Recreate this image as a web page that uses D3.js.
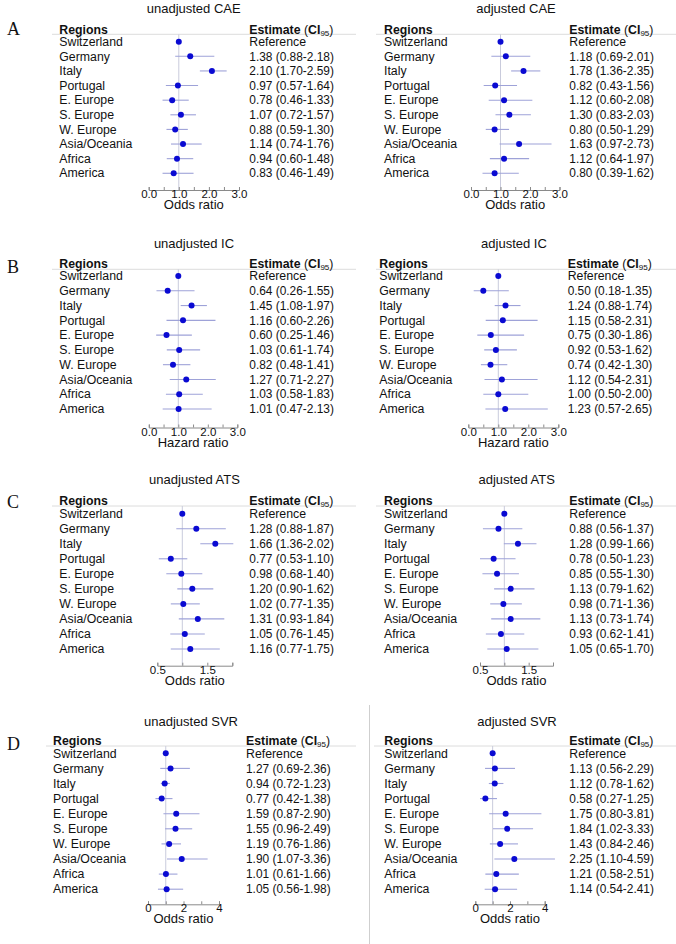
<!DOCTYPE html>
<html>
<head>
<meta charset="utf-8">
<script src="https://cdn.jsdelivr.net/npm/d3@7"></script>
<style>
  body { margin: 0; background: #fff; }
  text { font-family: "Liberation Sans", Arial, sans-serif; fill: #111; }
</style>
</head>
<body>
<div id="chart"></div>
<script>
// Data
const regions = ["Switzerland", "Germany", "Italy", "Portugal", "E. Europe", "S. Europe",
                 "W. Europe", "Asia/Oceania", "Africa", "America"]

// CAE
const caeUnadjEst = [1, 1.38, 2.10, 0.97, 0.78, 1.07, 0.88, 1.14, 0.94, 0.83]
const caeUnadjLo  = [null, 0.88, 1.70, 0.57, 0.46, 0.72, 0.59, 0.74, 0.60, 0.46]
const caeUnadjHi  = [null, 2.18, 2.59, 1.64, 1.33, 1.57, 1.30, 1.76, 1.48, 1.49]
const caeAdjEst = [1, 1.18, 1.78, 0.82, 1.12, 1.30, 0.80, 1.63, 1.12, 0.80]
const caeAdjLo  = [null, 0.69, 1.36, 0.43, 0.60, 0.83, 0.50, 0.97, 0.64, 0.39]
const caeAdjHi  = [null, 2.01, 2.35, 1.56, 2.08, 2.03, 1.29, 2.73, 1.97, 1.62]

// IC
const icUnadjEst = [1, 0.64, 1.45, 1.16, 0.60, 1.03, 0.82, 1.27, 1.03, 1.01]
const icUnadjLo  = [null, 0.26, 1.08, 0.60, 0.25, 0.61, 0.48, 0.71, 0.58, 0.47]
const icUnadjHi  = [null, 1.55, 1.97, 2.26, 1.46, 1.74, 1.41, 2.27, 1.83, 2.13]
const icAdjEst = [1, 0.50, 1.24, 1.15, 0.75, 0.92, 0.74, 1.12, 1.00, 1.23]
const icAdjLo  = [null, 0.18, 0.88, 0.58, 0.30, 0.53, 0.42, 0.54, 0.50, 0.57]
const icAdjHi  = [null, 1.35, 1.74, 2.31, 1.86, 1.62, 1.30, 2.31, 2.00, 2.65]

// ATS
const atsUnadjEst = [1, 1.28, 1.66, 0.77, 0.98, 1.20, 1.02, 1.31, 1.05, 1.16]
const atsUnadjLo  = [null, 0.88, 1.36, 0.53, 0.68, 0.90, 0.77, 0.93, 0.76, 0.77]
const atsUnadjHi  = [null, 1.87, 2.02, 1.10, 1.40, 1.62, 1.35, 1.84, 1.45, 1.75]
const atsAdjEst = [1, 0.88, 1.28, 0.78, 0.85, 1.13, 0.98, 1.13, 0.93, 1.05]
const atsAdjLo  = [null, 0.56, 0.99, 0.50, 0.55, 0.79, 0.71, 0.73, 0.62, 0.65]
const atsAdjHi  = [null, 1.37, 1.66, 1.23, 1.30, 1.62, 1.36, 1.74, 1.41, 1.70]

// SVR
const svrUnadjEst = [1, 1.27, 0.94, 0.77, 1.59, 1.55, 1.19, 1.90, 1.01, 1.05]
const svrUnadjLo  = [null, 0.69, 0.72, 0.42, 0.87, 0.96, 0.76, 1.07, 0.61, 0.56]
const svrUnadjHi  = [null, 2.36, 1.23, 1.38, 2.90, 2.49, 1.86, 3.36, 1.66, 1.98]
const svrAdjEst = [1, 1.13, 1.12, 0.58, 1.75, 1.84, 1.43, 2.25, 1.21, 1.14]
const svrAdjLo  = [null, 0.56, 0.78, 0.27, 0.80, 1.02, 0.84, 1.10, 0.58, 0.54]
const svrAdjHi  = [null, 2.29, 1.62, 1.25, 3.81, 3.33, 2.46, 4.59, 2.51, 2.41]

// Axis ticks
const orTicks = [0, 0.5, 1, 1.5, 2, 2.5, 3]
const orTickLabels = ["0.0", "", "1.0", "", "2.0", "", "3.0"]
const atsTicks = [0.5, 1, 1.5, 2]
const atsTickLabels = ["0.5", "", "1.5", ""]
const svrTicks = [0, 1, 2, 3, 4]
const svrTickLabels = ["0", "", "2", "", "4"]

const panelLetters = ["A", "B", "C", "D"]

// Layout (pixel positions)
const width = 676, height = 944
const rowLayout = [
  {letterY: 35, titleY: 13.3, headY: 33.5, lineY: 34.3, top: 41.7, step: 14.62, axisY: 190},
  {letterY: 273, titleY: 247.7, headY: 268.3, lineY: 269.3, top: 276, step: 14.78, axisY: 427.5},
  {letterY: 508, titleY: 484, headY: 505, lineY: 506, top: 513.7, step: 15.03, axisY: 665.7},
  {letterY: 750, titleY: 726, headY: 745.3, lineY: 746, top: 753.3, step: 15.1, axisY: 904.3}
]

const panels = [
  {row: 0, title: "unadjusted CAE", xlab: "Odds ratio", est: caeUnadjEst, lo: caeUnadjLo, hi: caeUnadjHi,
   ticks: orTicks, labels: orTickLabels, domain: [0, 3], range: [148.7, 239], labelX: 59.3, estX: 249.3, titleX: 193.7, line: [52, 356]},
  {row: 0, title: "adjusted CAE", xlab: "Odds ratio", est: caeAdjEst, lo: caeAdjLo, hi: caeAdjHi,
   ticks: orTicks, labels: orTickLabels, domain: [0, 3], range: [471, 559.5], labelX: 384, estX: 569.3, titleX: 516, line: [376, 676]},
  {row: 1, title: "unadjusted IC", xlab: "Hazard ratio", est: icUnadjEst, lo: icUnadjLo, hi: icUnadjHi,
   ticks: orTicks, labels: orTickLabels, domain: [0, 3], range: [148.8, 237.3], labelX: 59.3, estX: 249.3, titleX: 194, line: [52, 356]},
  {row: 1, title: "adjusted IC", xlab: "Hazard ratio", est: icAdjEst, lo: icAdjLo, hi: icAdjHi,
   ticks: orTicks, labels: orTickLabels, domain: [0, 3], range: [468.3, 558.3], labelX: 379.3, estX: 567.7, titleX: 514, line: [376, 676]},
  {row: 2, title: "unadjusted ATS", xlab: "Odds ratio", est: atsUnadjEst, lo: atsUnadjLo, hi: atsUnadjHi,
   ticks: atsTicks, labels: atsTickLabels, domain: [0.5, 2], range: [157.3, 232.3], labelX: 59.3, estX: 249.3, titleX: 194.5, line: [52, 356]},
  {row: 2, title: "adjusted ATS", xlab: "Odds ratio", est: atsAdjEst, lo: atsAdjLo, hi: atsAdjHi,
   ticks: atsTicks, labels: atsTickLabels, domain: [0.5, 2], range: [480, 553], labelX: 384, estX: 569.3, titleX: 516.7, line: [376, 676]},
  {row: 3, title: "unadjusted SVR", xlab: "Odds ratio", est: svrUnadjEst, lo: svrUnadjLo, hi: svrUnadjHi,
   ticks: svrTicks, labels: svrTickLabels, domain: [0, 4], range: [148, 219], labelX: 53, estX: 246, titleX: 191, line: [46, 356]},
  {row: 3, title: "adjusted SVR", xlab: "Odds ratio", est: svrAdjEst, lo: svrAdjLo, hi: svrAdjHi,
   ticks: svrTicks, labels: svrTickLabels, domain: [0, 4], range: [475.3, 544.7], labelX: 384.3, estX: 569.3, titleX: 517, line: [374, 676]}
]

const svg = d3.select("#chart").append("svg")
    .attr("width", width)
    .attr("height", height)

// separator between the two D panels
svg.append("line")
    .attr("x1", 369.5).attr("x2", 369.5)
    .attr("y1", 705).attr("y2", height)
    .attr("stroke", "#cfcfcf")

// panel letters
rowLayout.forEach((r, i) => {
    svg.append("text")
        .attr("x", 7).attr("y", r.letterY)
        .style("font-family", "'Liberation Serif', 'Times New Roman', serif")
        .style("font-size", "18px")
        .text(panelLetters[i])
})

function fmt(v) { return v.toFixed(2) }

panels.forEach(p => {
    const r = rowLayout[p.row]
    const g = svg.append("g")
    const x = d3.scaleLinear().domain(p.domain).range(p.range)
    const y = d3.scaleLinear().domain([0, 1]).range([r.top, r.top + r.step])

    // title
    g.append("text")
        .attr("x", p.titleX).attr("y", r.titleY)
        .attr("text-anchor", "middle")
        .style("font-size", "13px")
        .text(p.title)

    // header rule
    g.append("line")
        .attr("x1", p.line[0]).attr("x2", p.line[1])
        .attr("y1", r.lineY).attr("y2", r.lineY)
        .attr("stroke", "#dcdcdc")

    g.append("text")
        .attr("x", p.labelX).attr("y", r.headY)
        .style("font-size", "12.3px").style("font-weight", "bold")
        .text("Regions")

    const head = g.append("text")
        .attr("x", p.estX).attr("y", r.headY)
        .style("font-size", "12.3px")
    head.append("tspan").style("font-weight", "bold").text("Estimate")
    head.append("tspan").text(" (")
    head.append("tspan").style("font-weight", "bold").text("CI")
    head.append("tspan").style("font-size", "8px").attr("dy", 2).text("95")
    head.append("tspan").attr("dy", -2).text(")")

    // reference line at 1
    g.append("line")
        .attr("x1", x(1)).attr("x2", x(1))
        .attr("y1", r.lineY).attr("y2", r.axisY)
        .attr("stroke", "#c9cbdc")

    const rows = regions.map((name, i) => ({name: name, est: p.est[i], lo: p.lo[i], hi: p.hi[i], i: i}))

    g.selectAll(".ci")
        .data(rows.filter(d => d.lo !== null))
        .join("line")
            .attr("x1", d => x(d.lo)).attr("x2", d => x(d.hi))
            .attr("y1", d => y(d.i)).attr("y2", d => y(d.i))
            .attr("stroke", "#9ea2d8")
            .attr("stroke-width", 1.1)

    g.selectAll(".pt")
        .data(rows)
        .join("circle")
            .attr("cx", d => x(d.est))
            .attr("cy", d => y(d.i))
            .attr("r", 3)
            .attr("fill", "#0a0ad2")

    g.selectAll(".lab")
        .data(rows)
        .join("text")
            .attr("x", p.labelX)
            .attr("y", d => y(d.i) + 4.2)
            .style("font-size", "12.3px")
            .text(d => d.name)

    g.selectAll(".est")
        .data(rows)
        .join("text")
            .attr("x", p.estX)
            .attr("y", d => y(d.i) + 4.2)
            .style("font-size", d => d.lo === null ? "12.3px" : "11.9px")
            .text(d => d.lo === null ? "Reference" : fmt(d.est) + " (" + fmt(d.lo) + "-" + fmt(d.hi) + ")")

    // x axis with inward ticks
    const axis = d3.axisBottom(x)
        .tickValues(p.ticks)
        .tickFormat((d, i) => p.labels[i])
        .tickSizeInner(-3)
        .tickSizeOuter(-3)
        .tickPadding(0)
    const ax = g.append("g")
        .attr("transform", "translate(0," + r.axisY + ")")
        .call(axis)
    ax.select(".domain").attr("stroke", "#8a8a8a")
    ax.selectAll(".tick line").attr("stroke", "#8a8a8a")
    ax.selectAll(".tick text")
        .style("font-size", "11.5px")
        .style("font-family", "'Liberation Sans', Arial, sans-serif")
        .attr("fill", "#222")

    g.append("text")
        .attr("x", (p.range[0] + p.range[1]) / 2)
        .attr("y", r.axisY + 19)
        .attr("text-anchor", "middle")
        .style("font-size", "13px")
        .text(p.xlab)
})
</script>
</body>
</html>
